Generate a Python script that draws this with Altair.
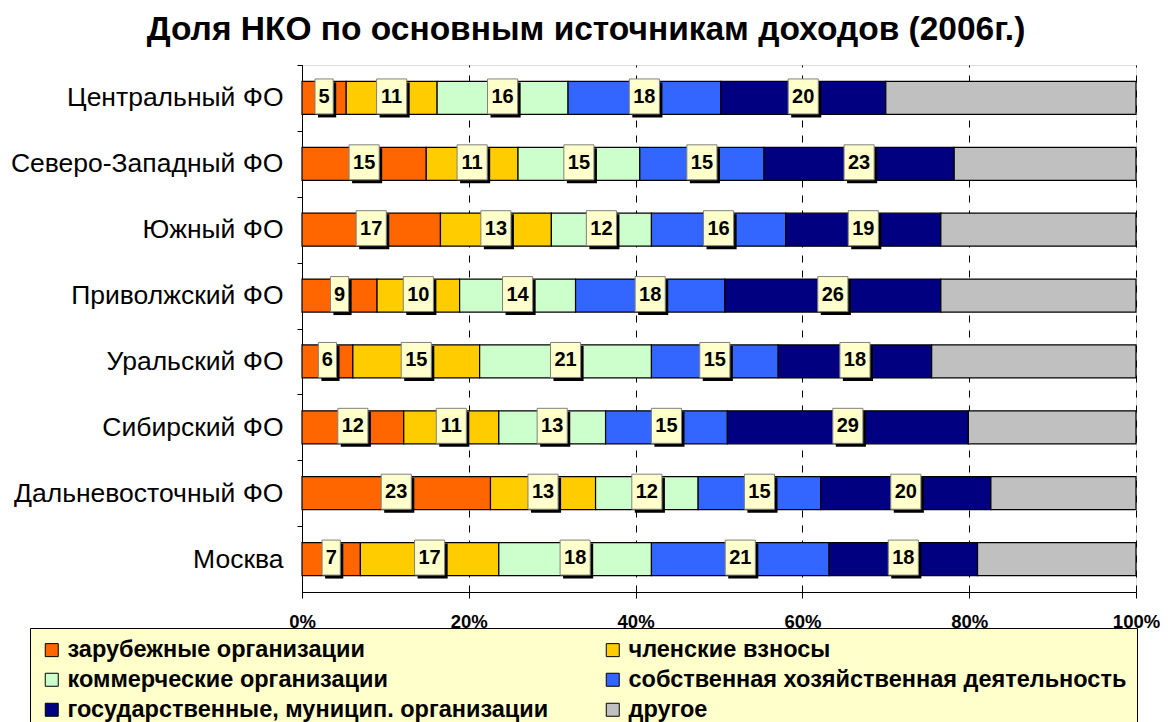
import altair as alt
import pandas as pd

regions = ["Центральный ФО", "Северо-Западный ФО", "Южный ФО", "Приволжский ФО",
           "Уральский ФО", "Сибирский ФО", "Дальневосточный ФО", "Москва"]
sources = ["зарубежные организации", "членские взносы", "коммерческие организации",
           "собственная хозяйственная деятельность",
           "государственные, муницип. организации", "другое"]
colors = ["#FF6600", "#FFCC00", "#CCFFCC", "#3366FF", "#000080", "#C0C0C0"]

foreign = [5.3, 14.9, 16.6, 9.0, 6.1, 12.2, 22.6, 7.0]
member = [10.9, 11.0, 13.3, 9.9, 15.2, 11.4, 12.6, 16.6]
commercial = [15.7, 14.6, 12.0, 13.9, 20.6, 12.8, 12.3, 18.3]
own = [18.3, 14.9, 16.1, 17.9, 15.2, 14.6, 14.7, 21.3]
state = [19.8, 22.8, 18.6, 25.9, 18.4, 28.9, 20.4, 17.8]
other = [30.0, 21.8, 23.4, 23.4, 24.5, 20.1, 17.4, 19.0]
series = [foreign, member, commercial, own, state, other]

# label box shapes (unit symbol paths): narrow for 1 digit, wide for 2 digits
BOX1 = "M-0.52,-1H0.52V1H-0.52Z"
BOX2 = "M-0.86,-1H0.86V1H-0.86Z"

rows = []
for si, (src, vals) in enumerate(zip(sources, series)):
    for ri, reg in enumerate(regions):
        v = vals[ri]
        lab = str(int(v + 0.5))
        rows.append({"region": reg, "source": src, "idx": si, "value": v,
                     "lab": lab, "shp": BOX1 if len(lab) == 1 else BOX2})
df = pd.DataFrame(rows)

FONT = "Liberation Sans"
BAND = 527 / 8 / 2

base = alt.Chart(df).transform_stack(
    stack="value", groupby=["region"], sort=[alt.SortField("idx")], as_=["x0", "x1"]
).transform_calculate(mid="(datum.x0 + datum.x1) / 2")

y_enc = alt.Y("region:N", sort=regions,
              scale=alt.Scale(paddingInner=0.5, paddingOuter=0.25),
              axis=alt.Axis(title=None, labelFont=FONT, labelFontSize=26.5,
                            labelColor="black", tickColor="black", tickSize=5,
                            domainColor="black", labelPadding=14, labelLimit=400,
                            tickOffset=-BAND, labelOffset=BAND))

bars = base.mark_bar(stroke="black", strokeWidth=1.2).encode(
    x=alt.X("x0:Q", scale=alt.Scale(domain=[0, 100]),
            axis=alt.Axis(title=None, values=[0, 20, 40, 60, 80, 100],
                          labelExpr="datum.value + '%'", grid=True,
                          gridDash=[7, 8], gridColor="black", gridOpacity=1,
                          gridWidth=1, domainColor="black", tickColor="black",
                          tickSize=6, labelFont=FONT, labelFontSize=18.5,
                          labelFontWeight="bold", labelColor="black",
                          labelPadding=14, labelFlush=False)),
    x2="x1:Q",
    y=y_enc,
    color=alt.Color("source:N", scale=alt.Scale(domain=sources, range=colors),
                    legend=alt.Legend(title=None, orient="none", legendX=-272,
                                      legendY=563, columns=2, direction="horizontal",
                                      fillColor="#FFFFCC", strokeColor="black",
                                      padding=10, labelFont=FONT,
                                      labelFontSize=23.5, labelFontWeight="bold",
                                      labelColor="black", labelLimit=700,
                                      symbolType="square", symbolSize=169,
                                      symbolStrokeColor="black",
                                      symbolStrokeWidth=1, symbolOpacity=1,
                                      columnPadding=52, rowPadding=5,
                                      labelOffset=4)),
)

lab_base = base.transform_filter("datum.idx < 5")

shadows = lab_base.mark_point(filled=True, fill="black", opacity=1, strokeWidth=0,
                              size=1225, xOffset=3, yOffset=2).encode(
    x=alt.X("mid:Q", title=None), y=alt.Y("region:N", sort=regions),
    shape=alt.Shape("shp:N", scale=None))

boxes = lab_base.mark_point(filled=True, fill="#FFFFCC", opacity=1, stroke="#808080",
                            strokeWidth=1, size=1225, yOffset=-1.5).encode(
    x=alt.X("mid:Q", title=None), y=alt.Y("region:N", sort=regions),
    shape=alt.Shape("shp:N", scale=None))

texts = lab_base.mark_text(font=FONT, fontSize=20, fontWeight="bold", color="black",
                           baseline="middle", align="center", yOffset=-1).encode(
    x=alt.X("mid:Q", title=None), y=alt.Y("region:N", sort=regions),
    text="lab:N")

chart = alt.layer(bars, shadows, boxes, texts).properties(
    width=834, height=527,
    autosize=alt.AutoSizeParams(type="none"),
    padding={"left": 294, "top": 57, "right": 24, "bottom": 130},
    title=alt.TitleParams("Доля НКО по основным источникам доходов (2006г.)",
                          font=FONT, fontSize=33.5, fontWeight="bold", color="black",
                          anchor="middle", dx=-133, dy=26, offset=17,
                          baseline="alphabetic"),
).configure_view(stroke="black", strokeWidth=1).configure(background="white")

chart.save("out.html", embed_options={"renderer": "svg", "actions": False})
